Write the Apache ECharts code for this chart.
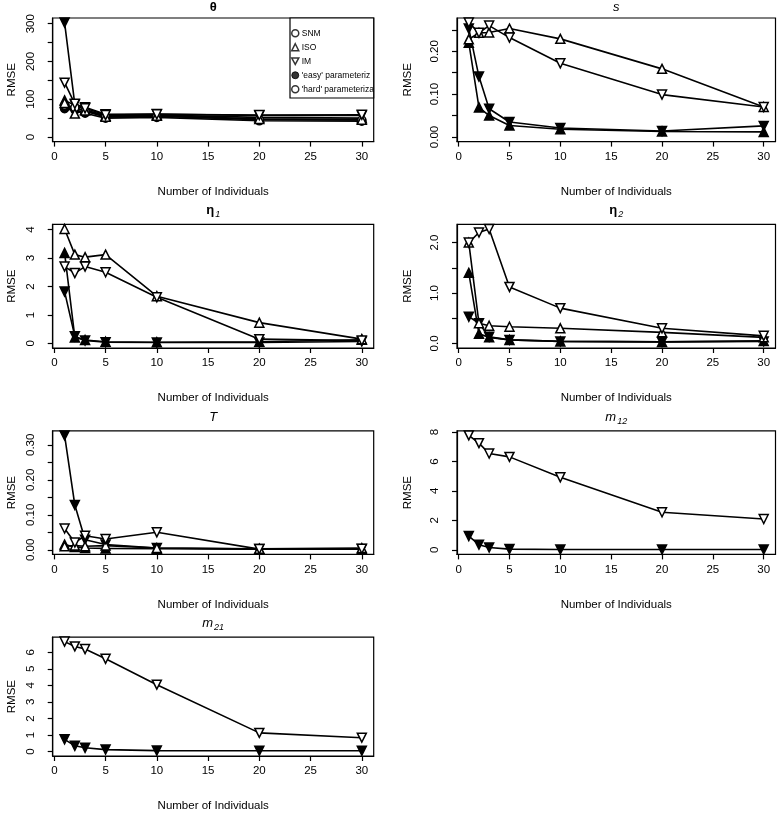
<!DOCTYPE html>
<html><head><meta charset="utf-8">
<script src="https://cdn.jsdelivr.net/npm/echarts@6/dist/echarts.min.js"></script>
<style>html,body{margin:0;padding:0;background:#fff}#c{width:777px;height:813px}</style>
</head><body><div id="c"></div>
<script>
// ---------- DATA ----------
const nIndividuals = [1, 2, 3, 5, 10, 20, 30];
const xTickValues = [0, 5, 10, 15, 20, 25, 30];

// theta
const thetaSNMEasy = [75, 72, 63, 50, 52, 43, 42];
const thetaSNMHard = [84, 78, 68, 53, 55, 46, 45];
const thetaISOEasy = [97, 84, 72, 56, 58, 52, 50];
const thetaISOHard = [90, 62, 70, 54, 56, 48, 46];
const thetaIMEasy  = [303, 86, 79, 60, 61, 57, 57];
const thetaIMHard  = [144, 88, 76, 58, 60, 58, 59];
// s
const sISOEasy = [0.220, 0.069, 0.050, 0.027, 0.018, 0.013, 0.012];
const sISOHard = [0.228, 0.243, 0.244, 0.253, 0.229, 0.159, 0.070];
const sIMEasy  = [0.253, 0.141, 0.066, 0.035, 0.021, 0.014, 0.026];
const sIMHard  = [0.267, 0.243, 0.260, 0.232, 0.172, 0.099, 0.070];
// eta1
const eta1ISOEasy = [3.18, 0.21, 0.12, 0.06, 0.04, 0.06, 0.13];
const eta1ISOHard = [4.02, 3.12, 3.03, 3.12, 1.66, 0.73, 0.15];
const eta1IMEasy  = [1.82, 0.25, 0.10, 0.04, 0.03, 0.03, 0.07];
const eta1IMHard  = [2.70, 2.47, 2.70, 2.50, 1.62, 0.15, 0.10];
// eta2
const eta2ISOEasy = [1.40, 0.19, 0.12, 0.07, 0.04, 0.03, 0.05];
const eta2ISOHard = [2.00, 0.40, 0.35, 0.33, 0.30, 0.22, 0.12];
const eta2IMEasy  = [0.53, 0.40, 0.13, 0.07, 0.04, 0.03, 0.04];
const eta2IMHard  = [2.00, 2.20, 2.27, 1.12, 0.70, 0.30, 0.15];
// T
const TISOEasy = [0.015, 0.008, 0.005, 0.004, 0.003, 0.002, 0.002];
const TISOHard = [0.010, 0.012, 0.010, 0.012, 0.005, 0.003, 0.005];
const TIMEasy  = [0.327, 0.128, 0.029, 0.015, 0.005, 0.002, 0.002];
const TIMHard  = [0.061, 0.021, 0.040, 0.031, 0.050, 0.002, 0.003];
// m12
const m12IMEasy = [0.93, 0.35, 0.16, 0.05, 0.02, 0.02, 0.02];
const m12IMHard = [7.77, 7.24, 6.54, 6.31, 4.92, 2.55, 2.09];
// m21
const m21IMEasy = [0.74, 0.35, 0.23, 0.12, 0.06, 0.05, 0.05];
const m21IMHard = [6.64, 6.35, 6.19, 5.60, 4.04, 1.13, 0.84];

// y ticks / labels
const thetaYTicks = [0, 50, 100, 150, 200, 250, 300];
const thetaYLabels = [0, 100, 200, 300];
const sYTicks = [0, 0.05, 0.10, 0.15, 0.20, 0.25];
const sYLabels = [0, 0.10, 0.20];
const eta1YTicks = [0, 1, 2, 3, 4];
const eta1YLabels = [0, 1, 2, 3, 4];
const eta2YTicks = [0, 0.5, 1.0, 1.5, 2.0];
const eta2YLabels = [0, 1.0, 2.0];
const TYTicks = [0, 0.05, 0.10, 0.15, 0.20, 0.25, 0.30];
const TYLabels = [0, 0.10, 0.20, 0.30];
const m12YTicks = [0, 2, 4, 6, 8];
const m12YLabels = [0, 2, 4, 6, 8];
const m21YTicks = [0, 1, 2, 3, 4, 5, 6];
const m21YLabels = [0, 1, 2, 3, 4, 5, 6];

const legendNames = ['SNM', 'ISO', 'IM', "'easy' parameteriz", "'hard' parameteriza"];
const xAxisTitle = 'Number of Individuals';
const yAxisTitle = 'RMSE';

// ---------- LAYOUT / STYLE ----------
const FONT = '"Liberation Sans", Arial, Helvetica, sans-serif';
const colLeft = [52.7, 457];
const colWidth = [321, 318.5];
const rowTop = [18, 224.4, 430.8, 637.2];
const titleY = [8, 211, 417.5, 624];
const boxH = 123.6;
const yNameGap = [35, 43];

const panels = [
  { title: '{b|θ}', row: 0, col: 0, yTicks: thetaYTicks, yLabels: thetaYLabels, dec: 0,
    series: [['SNM','easy',thetaSNMEasy],['SNM','hard',thetaSNMHard],['ISO','easy',thetaISOEasy],['ISO','hard',thetaISOHard],['IM','easy',thetaIMEasy],['IM','hard',thetaIMHard]] },
  { title: '{i|s}', row: 0, col: 1, yTicks: sYTicks, yLabels: sYLabels, dec: 2,
    series: [['ISO','easy',sISOEasy],['ISO','hard',sISOHard],['IM','easy',sIMEasy],['IM','hard',sIMHard]] },
  { title: '{b|η}{sub|1}', row: 1, col: 0, yTicks: eta1YTicks, yLabels: eta1YLabels, dec: 0,
    series: [['ISO','easy',eta1ISOEasy],['ISO','hard',eta1ISOHard],['IM','easy',eta1IMEasy],['IM','hard',eta1IMHard]] },
  { title: '{b|η}{sub|2}', row: 1, col: 1, yTicks: eta2YTicks, yLabels: eta2YLabels, dec: 1,
    series: [['ISO','easy',eta2ISOEasy],['ISO','hard',eta2ISOHard],['IM','easy',eta2IMEasy],['IM','hard',eta2IMHard]] },
  { title: '{i|T}', row: 2, col: 0, yTicks: TYTicks, yLabels: TYLabels, dec: 2,
    series: [['ISO','easy',TISOEasy],['ISO','hard',TISOHard],['IM','easy',TIMEasy],['IM','hard',TIMHard]] },
  { title: '{i|m}{sub|12}', row: 2, col: 1, yTicks: m12YTicks, yLabels: m12YLabels, dec: 0,
    series: [['IM','easy',m12IMEasy],['IM','hard',m12IMHard]] },
  { title: '{i|m}{sub|21}', row: 3, col: 0, yTicks: m21YTicks, yLabels: m21YLabels, dec: 0,
    series: [['IM','easy',m21IMEasy],['IM','hard',m21IMHard]] }
];

const xMinData = Math.min(...nIndividuals), xMaxData = Math.max(...nIndividuals);
const xPad = 0.04 * (xMaxData - xMinData);

const symbolFor = { SNM: ['circle', 0, 8], ISO: ['triangle', 0, 9], IM: ['triangle', 180, 9] };
const txt = { color: '#000', fontFamily: FONT, fontSize: 11.5 };

const grids = [], xAxes = [], yAxes = [], series = [], graphics = [];

panels.forEach((p, i) => {
  const left = colLeft[p.col], top = rowTop[p.row], width = colWidth[p.col];
  grids.push({ left, top, width, height: boxH, show: true, borderColor: '#000', borderWidth: 1.2, containLabel: false });
  let M = 0;
  p.series.forEach(s => { M = Math.max(M, ...s[2]); });
  xAxes.push({
    gridIndex: i, type: 'value', min: xMinData - xPad, max: xMaxData + xPad,
    axisLine: { show: true, onZero: false, lineStyle: { color: '#000', width: 1.2 } },
    axisTick: { show: true, length: 5, customValues: xTickValues, lineStyle: { color: '#000', width: 1.2 } },
    axisLabel: Object.assign({ customValues: xTickValues, margin: 9, showMinLabel: true, showMaxLabel: true }, txt),
    splitLine: { show: false },
    name: xAxisTitle, nameLocation: 'middle', nameGap: 44, nameTextStyle: Object.assign({}, txt)
  });
  yAxes.push({
    gridIndex: i, type: 'value', min: -0.04 * M, max: 1.04 * M,
    axisLine: { show: true, onZero: false, lineStyle: { color: '#000', width: 1.2 } },
    axisTick: { show: true, length: 5, customValues: p.yTicks, lineStyle: { color: '#000', width: 1.2 } },
    axisLabel: Object.assign({ customValues: p.yLabels, rotate: 90, margin: 16,
      formatter: v => Number(v).toFixed(p.dec) }, txt),
    splitLine: { show: false },
    name: yAxisTitle, nameLocation: 'middle', nameGap: yNameGap[p.col], nameRotate: 90,
    nameTextStyle: Object.assign({}, txt)
  });
  p.series.forEach(s => {
    const [model, param, vals] = s;
    const sym = symbolFor[model];
    const open = param === 'hard';
    series.push({
      type: 'line', name: model + ' ' + param + ' ' + i, xAxisIndex: i, yAxisIndex: i,
      data: nIndividuals.map((x, k) => [x, vals[k]]),
      symbol: sym[0], symbolRotate: sym[1], symbolSize: sym[2], showAllSymbol: true,
      lineStyle: { color: '#000', width: 1.6 },
      itemStyle: { color: open ? '#fff' : '#000', borderColor: '#000', borderWidth: 1.5 },
      emphasis: { disabled: true }, silent: true, z: open ? 3 : 2
    });
  });
  graphics.push({
    type: 'text', x: left + width / 2, y: titleY[p.row],
    style: {
      text: p.title, align: 'center', verticalAlign: 'middle', fill: '#000',
      rich: {
        b: { fontFamily: FONT, fontSize: 13, fontWeight: 'bold', lineHeight: 14, verticalAlign: 'top' },
        i: { fontFamily: FONT, fontSize: 13, fontStyle: 'italic', lineHeight: 14, verticalAlign: 'top' },
        sub: { fontFamily: FONT, fontSize: 9, fontStyle: 'italic', lineHeight: 9, padding: [6, 0, 0, 1], verticalAlign: 'top' }
      }
    }
  });
});

// dummy series for legend entries
legendNames.forEach(n => series.push({ type: 'scatter', name: n, data: [], xAxisIndex: 0, yAxisIndex: 0 }));

// legend box
graphics.push({ type: 'rect', shape: { x: 290, y: 18, width: colLeft[0] + colWidth[0] - 290, height: 80 },
  style: { fill: '#fff', stroke: '#000', lineWidth: 1.2 }, z: 10 });

const openSt = { color: '#fff', borderColor: '#000', borderWidth: 1.5 };
const fillSt = { color: '#000', borderColor: '#000', borderWidth: 1 };
const downTri = 'path://M0,0L10,0L5,9Z';

const option = {
  animation: false,
  backgroundColor: '#fff',
  grid: grids, xAxis: xAxes, yAxis: yAxes, series,
  graphic: graphics,
  legend: {
    show: true, orient: 'vertical', left: 291, top: 28.5, itemWidth: 7, itemHeight: 7, itemGap: 4.5,
    selectedMode: false, z: 20, padding: 0,
    textStyle: { color: '#000', fontFamily: FONT, fontSize: 8.5, lineHeight: 9.5, padding: [0, 0, 0, -2] },
    data: [
      { name: legendNames[0], icon: 'circle', itemStyle: openSt },
      { name: legendNames[1], icon: 'triangle', itemStyle: openSt },
      { name: legendNames[2], icon: downTri, itemStyle: openSt },
      { name: legendNames[3], icon: 'circle', itemStyle: fillSt },
      { name: legendNames[4], icon: 'circle', itemStyle: openSt }
    ]
  }
};

const chart = echarts.init(document.getElementById('c'));
chart.setOption(option);
</script>
</body></html>
